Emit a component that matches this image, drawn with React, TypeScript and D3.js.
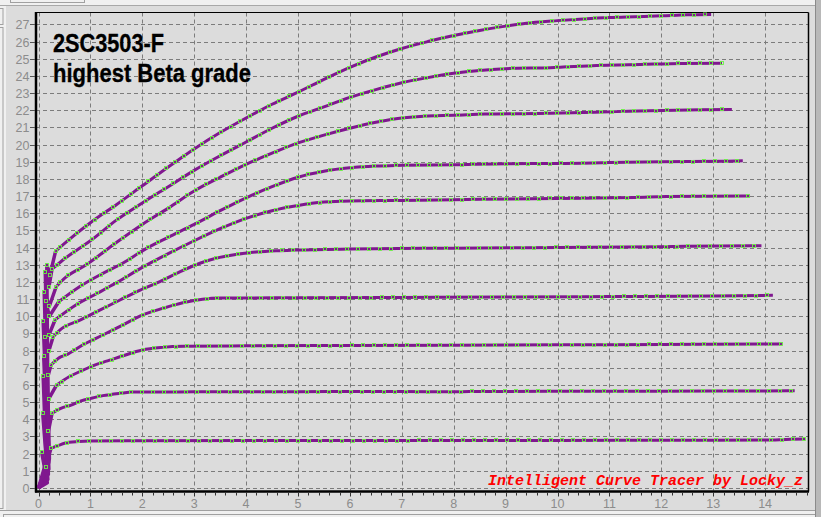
import React, { useEffect, useRef } from "react";
import * as d3 from "d3";

// Tick values
const xTicks: number[] = [0, 1, 2, 3, 4, 5, 6, 7, 8, 9, 10, 11, 12, 13, 14];
const yTicks: number[] = [0, 1, 2, 3, 4, 5, 6, 7, 8, 9, 10, 11, 12, 13, 14, 15, 16, 17, 18, 19, 20, 21, 22, 23, 24, 25, 26, 27];

// Curves: [Vce, Ic]; the first five points are the start-up ringing up to the knee
const curve1: [number, number][] = [[0, 0], [0.17, 0.3], [0.06, 2.1], [0.14, 1.2], [0.24, 2.31], [0.4, 2.5], [0.59, 2.66], [0.98, 2.74], [2, 2.75], [4, 2.76], [6, 2.76], [8, 2.77], [10, 2.77], [12, 2.78], [14, 2.79], [14.5, 2.84], [14.77, 2.85]];
const curve2: [number, number][] = [[0, 0], [0.18, 0.5], [0.08, 4.39], [0.19, 3.3], [0.26, 4.35], [0.43, 4.64], [0.63, 4.83], [0.82, 5.07], [1.01, 5.22], [1.24, 5.38], [1.61, 5.53], [1.8, 5.59], [3, 5.6], [5, 5.61], [7, 5.62], [8, 5.6], [8.3, 5.62], [10, 5.63], [12, 5.64], [14, 5.65], [14.57, 5.66]];
const curve3: [number, number][] = [[0, 0], [0.16, 0.6], [0.09, 6.5], [0.2, 5.2], [0.35, 6.0], [0.59, 6.48], [0.79, 6.77], [1.08, 7.16], [1.33, 7.4], [1.62, 7.69], [2.0, 8.04], [2.39, 8.19], [2.8, 8.25], [4, 8.28], [6, 8.3], [8, 8.32], [10, 8.34], [12, 8.36], [14, 8.38], [14.34, 8.4]];
const curve4: [number, number][] = [[0, 0], [0.19, 0.8], [0.1, 7.7], [0.19, 6.6], [0.24, 7.16], [0.41, 7.61], [0.53, 7.75], [0.85, 8.33], [1.24, 8.91], [1.62, 9.49], [2.0, 10.07], [2.39, 10.46], [2.78, 10.79], [3.16, 10.99], [3.5, 11.06], [5, 11.08], [7, 11.1], [9, 11.12], [11, 11.15], [13, 11.18], [14.15, 11.22]];
const curve5: [number, number][] = [[0, 0], [0.17, 1.0], [0.12, 8.8], [0.2, 8.0], [0.28, 8.8], [0.41, 9.2], [0.8, 9.78], [1.19, 10.37], [1.57, 10.95], [1.96, 11.53], [2.34, 12.02], [2.73, 12.6], [3.11, 13.09], [3.42, 13.38], [3.8, 13.6], [4.19, 13.74], [4.58, 13.82], [4.96, 13.86], [6, 13.92], [8, 13.97], [10, 14.01], [12, 14.05], [13.1, 14.1], [13.93, 14.11]];
const curve6: [number, number][] = [[0, 0], [0.2, 1.1], [0.09, 9.7], [0.2, 8.9], [0.32, 9.8], [0.72, 10.66], [1.11, 11.3], [1.5, 11.95], [2.0, 12.85], [2.5, 13.65], [3.0, 14.4], [3.5, 15.1], [4.0, 15.7], [4.5, 16.15], [5.0, 16.45], [5.5, 16.65], [6.0, 16.72], [7.0, 16.75], [8.0, 16.79], [9.5, 16.85], [10.5, 16.88], [11.5, 16.92], [12.1, 16.97], [13.71, 17.0]];
const curve7: [number, number][] = [[0, 0], [0.18, 1.3], [0.14, 10.9], [0.21, 10.0], [0.39, 10.85], [0.79, 11.72], [1.24, 12.5], [1.62, 13.09], [2.05, 13.9], [2.5, 14.6], [3.0, 15.35], [3.5, 16.15], [4.0, 16.9], [4.5, 17.55], [5.0, 18.1], [5.5, 18.45], [6.0, 18.65], [6.5, 18.75], [7.0, 18.79], [8.0, 18.83], [9.0, 18.89], [10, 18.9], [11, 18.95], [12, 19.0], [13.2, 19.03], [13.57, 19.06]];
const curve8: [number, number][] = [[0, 0], [0.2, 1.5], [0.11, 11.4], [0.21, 10.6], [0.34, 11.72], [0.5, 12.21], [0.92, 13.0], [1.5, 14.3], [2.0, 15.35], [2.5, 16.3], [3.0, 17.3], [3.5, 18.1], [4.0, 18.85], [4.5, 19.5], [5.0, 20.1], [5.5, 20.55], [6.0, 20.95], [6.5, 21.3], [7.0, 21.55], [7.5, 21.67], [8.0, 21.71], [8.6, 21.78], [9.86, 21.82], [11.14, 21.92], [11.78, 21.97], [12.75, 22.03], [13.36, 22.05]];
const curve9: [number, number][] = [[0, 0], [0.21, 1.7], [0.13, 12.6], [0.2, 11.7], [0.26, 12.74], [0.47, 13.28], [0.79, 13.96], [1.0, 14.4], [1.5, 15.6], [2.0, 16.6], [2.5, 17.55], [3.0, 18.5], [3.5, 19.35], [4.0, 20.15], [4.5, 20.95], [5.0, 21.65], [5.5, 22.2], [6.0, 22.75], [6.5, 23.2], [7.0, 23.6], [7.5, 23.9], [8.0, 24.15], [8.5, 24.32], [9.0, 24.42], [9.86, 24.48], [10.75, 24.6], [11.6, 24.67], [12.4, 24.73], [13.17, 24.74]];
const curve10: [number, number][] = [[0, 0], [0.19, 2.0], [0.16, 13.0], [0.22, 12.4], [0.33, 13.8], [0.6, 14.5], [1.0, 15.45], [1.5, 16.5], [2.0, 17.6], [2.5, 18.7], [3.0, 19.75], [3.5, 20.7], [4.0, 21.55], [4.5, 22.35], [5.0, 23.05], [5.5, 23.8], [6.0, 24.5], [6.5, 25.1], [7.0, 25.6], [7.5, 26.0], [8.0, 26.35], [8.5, 26.65], [9.0, 26.9], [9.5, 27.1], [10.0, 27.22], [10.5, 27.32], [11.0, 27.4], [11.5, 27.45], [12.0, 27.5], [12.5, 27.56], [12.96, 27.58]];

const curves = [curve1, curve2, curve3, curve4, curve5, curve6, curve7, curve8, curve9, curve10];

const title1 = "2SC3503-F";
const title2 = "highest Beta grade";
const watermark = "Intelligent Curve Tracer by Locky_z";

export default function App() {
  const ref = useRef<SVGSVGElement>(null);

  useEffect(() => {
    const svg = d3.select(ref.current);
    svg.selectAll("*").remove();
    const W = 821, H = 517;
    const plotL = 36, plotR = 808, plotT = 12.5, plotB = 491.5;

    const x = d3.scaleLinear().domain([0, 14]).range([38.5, 765.1]);
    const y = d3.scaleLinear().domain([0, 27]).range([488, 24.4]);

    // window chrome
    svg.append("rect").attr("x", 0).attr("y", 0).attr("width", W).attr("height", H).attr("fill", "#f0f0f0");
    svg.append("rect").attr("x", 10.5).attr("y", -2).attr("width", 74).attr("height", 4.5).attr("fill", "#f0f0f0").attr("stroke", "#a0a0a0");
    svg.append("line").attr("x1", 0).attr("x2", W).attr("y1", 5.5).attr("y2", 5.5).attr("stroke", "#a8a8a8");
    svg.append("rect").attr("x", 6).attr("y", 6).attr("width", 810).attr("height", 504).attr("fill", "#dcdcdc");
    svg.append("rect").attr("x", -1).attr("y", 8.5).attr("width", 4).attr("height", 16).attr("fill", "#f0f0f0").attr("stroke", "#a0a0a0");
    svg.append("rect").attr("x", -1).attr("y", 27.5).attr("width", 4).attr("height", 481).attr("fill", "#f0f0f0").attr("stroke", "#a0a0a0");
    svg.append("line").attr("x1", 0).attr("x2", 816).attr("y1", 510.5).attr("y2", 510.5).attr("stroke", "#a0a0a0");
    svg.append("rect").attr("x", 3.5).attr("y", 514.5).attr("width", 812).attr("height", 10).attr("fill", "#f0f0f0").attr("stroke", "#a0a0a0");
    svg.append("rect").attr("x", 816).attr("y", 0).attr("width", 5).attr("height", H).attr("fill", "#b8b8b8");
    svg.append("line").attr("x1", 815.5).attr("x2", 815.5).attr("y1", 0).attr("y2", H).attr("stroke", "#8a8a8a");

    // grid
    const grid = svg.append("g").attr("stroke", "#7c7c7c").attr("stroke-width", 1).attr("stroke-dasharray", "4,3");
    xTicks.forEach((v) => {
      const px = Math.round(x(v)) + 0.5;
      grid.append("line").attr("x1", px).attr("x2", px).attr("y1", plotT).attr("y2", plotB - 1);
    });
    yTicks.forEach((v) => {
      const py = Math.round(y(v)) + 0.5;
      grid.append("line").attr("x1", plotL).attr("x2", plotR).attr("y1", py).attr("y2", py);
    });

    // frame
    svg.append("line").attr("x1", plotL).attr("x2", plotR + 0.5).attr("y1", plotT).attr("y2", plotT).attr("stroke", "#000").attr("stroke-width", 1);
    svg.append("line").attr("x1", plotR + 0.5).attr("x2", plotR + 0.5).attr("y1", plotT).attr("y2", plotB).attr("stroke", "#000").attr("stroke-width", 1.5);
    svg.append("line").attr("x1", plotL).attr("x2", plotL).attr("y1", plotT - 0.5).attr("y2", plotB + 1).attr("stroke", "#000").attr("stroke-width", 2.5);
    svg.append("line").attr("x1", plotL - 1).attr("x2", plotR + 1).attr("y1", plotB).attr("y2", plotB).attr("stroke", "#000").attr("stroke-width", 2.5);

    // x ticks (minor every 0.2)
    const minor = d3.range(0, 75).map((i) => i * 0.2);
    minor.forEach((v) => {
      const isMajor = Math.abs(v - Math.round(v)) < 1e-6;
      const px = Math.round(x(v)) + 0.5;
      if (px > plotR) return;
      svg.append("line").attr("x1", px).attr("x2", px).attr("y1", plotB + 1).attr("y2", plotB + (isMajor ? 5 : 4)).attr("stroke", "#333").attr("stroke-width", 1);
    });
    xTicks.forEach((v) => {
      svg.append("text").attr("x", x(v)).attr("y", 508).attr("text-anchor", "middle")
        .attr("font-family", "Liberation Sans, Arial, sans-serif").attr("font-size", 12.5).attr("fill", "#8c8c8c").text(String(v));
    });
    // y ticks
    yTicks.forEach((v) => {
      const py = Math.round(y(v)) + 0.5;
      svg.append("line").attr("x1", 30).attr("x2", 35).attr("y1", py).attr("y2", py).attr("stroke", "#555").attr("stroke-width", 1);
      svg.append("text").attr("x", 29.5).attr("y", py + 4.3).attr("text-anchor", "end")
        .attr("font-family", "Liberation Sans, Arial, sans-serif").attr("font-size", 12.5).attr("fill", "#8c8c8c").text(String(v));
    });

    // clip
    svg.append("clipPath").attr("id", "plotclip").append("rect")
      .attr("x", plotL).attr("y", plotT).attr("width", plotR - plotL).attr("height", plotB - plotT);

    const lineLin = d3.line<[number, number]>().x((d) => x(d[0])).y((d) => y(d[1]));
    const lineSmooth = d3.line<[number, number]>().x((d) => x(d[0])).y((d) => y(d[1])).curve(d3.curveMonotoneX);
    const cg = svg.append("g").attr("clip-path", "url(#plotclip)");
    const mg = svg.append("g").attr("clip-path", "url(#plotclip)");
    const purple = "#80188f";
    const green = "#6cf046";
    const HEAD = 5;
    const marker = (px: number, py: number) => {
      mg.append("rect").attr("x", Math.round(px) - 1.5).attr("y", Math.round(py) - 1.5).attr("width", 3).attr("height", 3)
        .attr("fill", "none").attr("stroke", green).attr("stroke-width", 0.9);
    };
    curves.forEach((c) => {
      const head = c.slice(0, HEAD);
      const tail = c.slice(HEAD - 1);
      cg.append("path").attr("d", lineLin(head) as string).attr("fill", "none")
        .attr("stroke", purple).attr("stroke-width", 3.5).attr("stroke-linejoin", "round");
      head.slice(2).forEach((d) => marker(x(d[0]), y(d[1])));
      const path = cg.append("path").attr("d", lineSmooth(tail) as string).attr("fill", "none")
        .attr("stroke", purple).attr("stroke-width", 3).attr("stroke-linejoin", "round");
      const node = path.node() as SVGPathElement;
      const total = node.getTotalLength();
      for (let l = 6; l <= total; l += 11) {
        const p = node.getPointAtLength(l);
        marker(p.x, p.y);
      }
    });

    // titles
    const tf = "Liberation Sans, Arial, sans-serif";
    svg.append("text").attr("x", 53).attr("y", 51.7).attr("font-family", tf).attr("font-weight", "bold")
      .attr("font-size", 25).attr("fill", "#000").attr("stroke", "#000").attr("stroke-width", 0.3)
      .attr("textLength", 111).attr("lengthAdjust", "spacingAndGlyphs").text(title1);
    svg.append("text").attr("x", 53).attr("y", 81.7).attr("font-family", tf).attr("font-weight", "bold")
      .attr("font-size", 25).attr("fill", "#000").attr("stroke", "#000").attr("stroke-width", 0.3)
      .attr("textLength", 198).attr("lengthAdjust", "spacingAndGlyphs").text(title2);

    svg.append("text").attr("x", 488).attr("y", 485).attr("font-family", "Liberation Mono, Courier New, monospace")
      .attr("font-weight", "bold").attr("font-style", "italic").attr("font-size", 15).attr("fill", "#ff0000")
      .attr("textLength", 315).attr("lengthAdjust", "spacingAndGlyphs").text(watermark);
  }, []);

  return (
    <svg ref={ref} width={821} height={517} style={{ position: "absolute", left: 0, top: 0, display: "block" }} />
  );
}
